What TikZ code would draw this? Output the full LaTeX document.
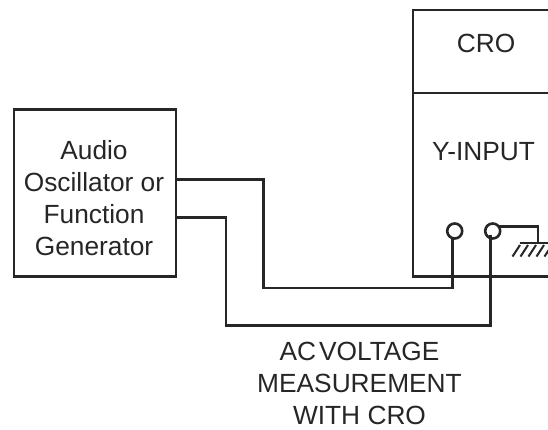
\documentclass[tikz,border=0pt]{standalone}
\usepackage{fontspec}
\setmainfont{Liberation Sans}
\tikzset{
  wire/.style={line width=2.6pt,line join=miter,color=black!85},
  label/.style={inner sep=0pt,align=center,font=\fontsize{26.3}{32}\selectfont,text=black!85},
  jack/.style={circle,draw=black!85,line width=2.6pt,minimum size=15pt,inner sep=0pt}
}
\begin{document}
\begin{tikzpicture}[x=1pt,y=-1pt]
\useasboundingbox (0,0) rectangle (548,429);
\clip (0,0) rectangle (548,429);

\node[draw=black!85,line width=2.6pt,minimum width=162pt,minimum height=167pt] (gen) at (95,193) {};
\node[label] (gentext) at (94,198) {Audio\\Oscillator or\\Function\\Generator};

\draw[wire] (413,93) -- (548,93);
\draw[wire] (548,10) -- (413,10) -- (413,276.5) -- (548,276.5);
\node[label] (cro) at (486,43) {CRO};
\node[label] (yinput) at (483.5,152) {Y-INPUT};

\node[jack] (ya) at (454.7,231) {};
\node[jack] (yb) at (492.7,231) {};

\coordinate (outa) at (gen.east |- 0,179.5);
\coordinate (outb) at (gen.east |- 0,217.5);
\coordinate (enda) at (452.7,238.5);
\coordinate (endb) at (490.7,235);
\coordinate (gnd) at (538,243);

\draw[wire] (outa) -- (263.5,179.5) -- (263.5,288) -- (452.7,288) -- (enda);
\draw[wire] (outb) -- (226,217.5) -- (226,325.5) -- (490.7,325.5) -- (endb);
\draw[wire] (yb.north east |- 0,226.5) -- (538,226.5) -- (gnd);

% earth
\draw[wire] (519.5,243) -- (548,243);
\foreach \x in {520,528,536,544,552}
  \draw[wire,line width=2pt] (\x,245) -- (\x-7.5,256.5);

\node[label] (caption) at (359.5,383) {AC\hspace{3pt}VOLTAGE\\MEASUREMENT\\WITH CRO};
\end{tikzpicture}
\end{document}
